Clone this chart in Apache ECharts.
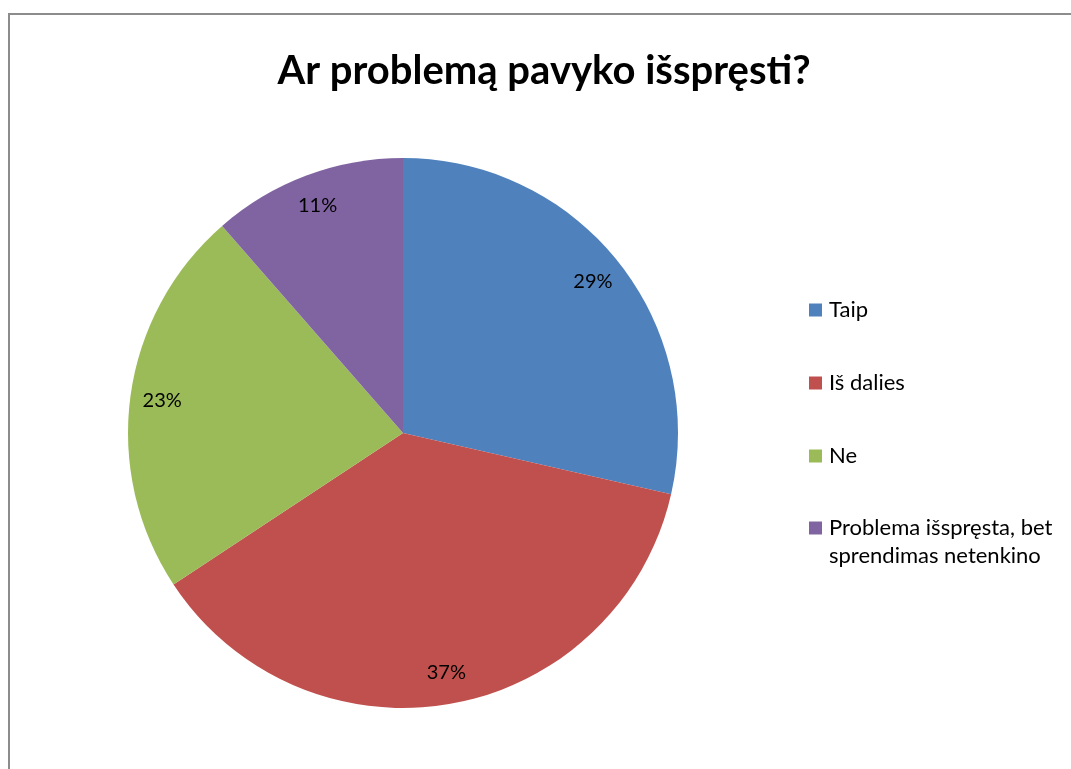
<!DOCTYPE html>
<html>
<head>
<meta charset="utf-8">
<script src="https://cdn.jsdelivr.net/npm/echarts@6/dist/echarts.min.js"></script>
<style>
html,body{margin:0;padding:0;background:#fff;overflow:hidden;}
#frame{position:absolute;left:8px;top:13px;width:1100px;height:800px;border:2px solid #8c8c8c;border-right:none;border-bottom:none;box-sizing:border-box;}
#chart{position:absolute;left:0;top:0;width:1071px;height:769px;}
</style>
</head>
<body>
<div id="frame"></div>
<div id="chart"></div>
<script>
const titleText = 'Ar problemą pavyko išspręsti?';
const categories = ['Taip', 'Iš dalies', 'Ne', 'Problema išspręsta, bet sprendimas netenkino'];
const values = [10, 13, 8, 4];
const colors = ['#4F81BD', '#C0504D', '#9BBB59', '#8064A2'];

const data = categories.map((c, i) => ({ name: c, value: values[i], itemStyle: { color: colors[i] } }));
const FONT = 'Lato';
const LH = 28;
const legendCenters = [310, 383, 456, 528];

const legends = categories.map((c, i) => ({
  data: [c],
  left: 809,
  top: i === 3 ? legendCenters[i] - LH * 1.5 : legendCenters[i] - LH / 2,
  padding: 0,
  orient: 'vertical',
  icon: 'rect',
  itemWidth: 13,
  itemHeight: 13,
  itemGap: 0,
  selectedMode: false,
  formatter: function (n) {
    return n === categories[3] ? '{s| }\n{a|Problema išspręsta, bet}\n{a|sprendimas netenkino}' : '{a|' + n + '}';
  },
  textStyle: {
    fontFamily: FONT,
    fontSize: 22,
    color: '#000',
    lineHeight: LH,
    rich: {
      a: { fontFamily: FONT, fontSize: 22, color: '#000', lineHeight: LH, padding: [0, 0, 0, 2] },
      s: { fontFamily: FONT, fontSize: 22, lineHeight: LH, height: LH }
    }
  }
}));

const chart = echarts.init(document.getElementById('chart'), null, { renderer: 'canvas' });
chart.setOption({
  animation: false,
  title: {
    text: titleText,
    left: 544,
    top: 51,
    padding: 0,
    textAlign: 'center',
    textStyle: { fontFamily: FONT, fontWeight: 'bold', fontSize: 40, color: '#000' }
  },
  legend: legends,
  series: [
    {
      type: 'pie',
      center: [403, 433],
      radius: [0, 275],
      startAngle: 90,
      clockwise: true,
      label: { show: false },
      labelLine: { show: false },
      itemStyle: { borderWidth: 0 },
      emphasis: { disabled: true },
      data: data
    },
    {
      type: 'pie',
      center: [403, 433],
      radius: [205, 275],
      startAngle: 90,
      clockwise: true,
      silent: true,
      itemStyle: { color: 'rgba(0,0,0,0)', borderWidth: 0 },
      label: {
        show: true,
        position: 'inside',
        fontFamily: FONT,
        fontSize: 20,
        color: '#000',
        formatter: function (p) { return Math.round(p.percent) + '%'; }
      },
      labelLine: { show: false },
      emphasis: { disabled: true },
      data: categories.map((c, i) => ({ name: c, value: values[i] }))
    }
  ]
});
</script>
</body>
</html>
